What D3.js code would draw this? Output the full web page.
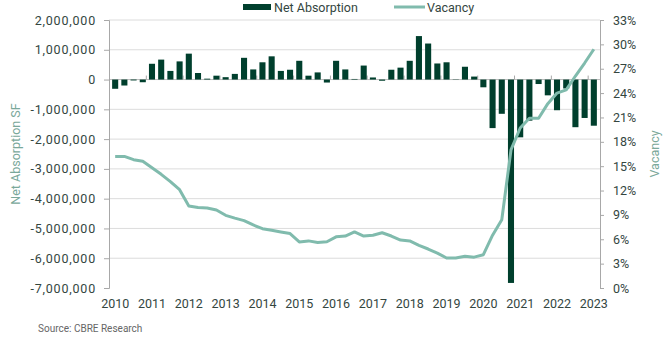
<!DOCTYPE html>
<html>
<head>
<meta charset="utf-8">
<script src="https://cdn.jsdelivr.net/npm/d3@7"></script>
<style>
  html, body { margin: 0; padding: 0; background: #fff; }
  svg text { font-family: Roboto, "Noto Sans", sans-serif; }
</style>
</head>
<body>
<div id="chart"></div>
<script>
// quarters 2010 Q1 .. 2023 Q1
const years = d3.range(2010, 2024);
const quarters = [];
years.forEach((y) => {
  [1, 2, 3, 4].forEach((q) => {
    if (y < 2023 || q === 1) quarters.push(`${y} Q${q}`);
  });
});

// net absorption, SF
const absorption = [
  -310000, -200000, -30000, -90000,
  530000, 670000, 290000, 610000,
  870000, 220000, 30000, 130000,
  80000, 190000, 730000, 340000,
  580000, 780000, 290000, 330000,
  630000, 130000, 240000, -100000,
  630000, 340000, 20000, 470000,
  70000, -40000, 330000, 400000,
  630000, 1460000, 1210000, 540000,
  580000, 10000, 430000, 100000,
  -260000, -1630000, -1150000, -6830000,
  -1940000, -1380000, -150000, -530000,
  -1030000, -300000, -1600000, -1290000,
  -1550000,
];

// vacancy rate, %
const vacancy = [
  16.2, 16.2, 15.8, 15.6,
  14.8, 14.0, 13.1, 12.1,
  10.1, 9.9, 9.85, 9.6,
  8.95, 8.6, 8.3, 7.76,
  7.3, 7.1, 6.9, 6.7,
  5.67, 5.8, 5.6, 5.7,
  6.3, 6.4, 6.9, 6.4,
  6.5, 6.8, 6.4, 5.9,
  5.8, 5.25, 4.8, 4.3,
  3.7, 3.7, 3.9, 3.8,
  4.1, 6.5, 8.4, 17.0,
  19.7, 20.9, 20.9, 22.7,
  24.0, 24.4, 26.1, 27.7,
  29.4,
];

const leftTicks = d3.range(-7000000, 2000001, 1000000);
const rightTicks = d3.range(0, 34, 3);

const width = 665, height = 340;
const margin = { left: 109, right: 65, top: 20, bottom: 52 };
const innerW = width - margin.left - margin.right;
const innerH = height - margin.top - margin.bottom;

const textColor = "#34463f";
const titleColor = "#7aa89a";
const barColor = "#003f2d";
const lineColor = "#80bbad";

const svg = d3.select("#chart").append("svg")
  .attr("width", width)
  .attr("height", height);

const g = svg.append("g")
  .attr("transform", `translate(${margin.left},${margin.top})`);

const x = d3.scaleBand().domain(quarters).range([0, innerW]).padding(0.34);
const yL = d3.scaleLinear().domain([-7000000, 2000000]).range([innerH, 0]);
const yR = d3.scaleLinear().domain([0, 33]).range([innerH, 0]);

const fmt = (d) => (d < 0 ? "-" : "") + d3.format(",")(Math.abs(d));

// gridlines
g.append("g").selectAll("line")
  .data(leftTicks.filter((d) => d !== -7000000))
  .join("line")
  .attr("x1", 0).attr("x2", innerW)
  .attr("y1", (d) => yL(d)).attr("y2", (d) => yL(d))
  .attr("stroke", (d) => (d === 0 ? "#bdbdbd" : "#dcdcdc"))
  .attr("stroke-width", 1);

// left axis
const axL = g.append("g")
  .call(d3.axisLeft(yL).tickValues(leftTicks).tickFormat(fmt).tickSize(5).tickPadding(8));
axL.select(".domain").attr("stroke", "#a8a8a8");
axL.selectAll(".tick line").attr("stroke", "#a8a8a8");
axL.selectAll("text").attr("fill", textColor).attr("font-size", 12.5)
  .attr("letter-spacing", 0.8);

// right axis
const axR = g.append("g")
  .attr("transform", `translate(${innerW},0)`)
  .call(d3.axisRight(yR).tickValues(rightTicks).tickFormat((d) => d + "%").tickSize(4).tickPadding(9));
axR.select(".domain").attr("stroke", "#a8a8a8");
axR.selectAll(".tick line").attr("stroke", "#a8a8a8");
axR.selectAll("text").attr("fill", textColor).attr("font-size", 12.5);

// category ticks on zero line
const step = x.step();
g.append("g").selectAll("line")
  .data(d3.range(0, quarters.length, 4))
  .join("line")
  .attr("x1", (i) => i * step + 0.5).attr("x2", (i) => i * step + 0.5)
  .attr("y1", yL(0) - 4).attr("y2", yL(0))
  .attr("stroke", "#a8a8a8");

// year labels under the chart, centred on Q1
g.append("g").selectAll("text")
  .data(years)
  .join("text")
  .attr("x", (y) => x(`${y} Q1`) + x.bandwidth() / 2)
  .attr("y", innerH + 20)
  .attr("text-anchor", "middle")
  .attr("fill", textColor)
  .attr("font-size", 12.5)
  .text((y) => y);

// bars
g.append("g").selectAll("rect")
  .data(absorption)
  .join("rect")
  .attr("x", (d, i) => x(quarters[i]))
  .attr("y", (d) => yL(Math.max(0, d)))
  .attr("width", x.bandwidth())
  .attr("height", (d) => Math.abs(yL(d) - yL(0)))
  .attr("fill", barColor);

// vacancy line
const line = d3.line()
  .x((d, i) => x(quarters[i]) + x.bandwidth() / 2)
  .y((d) => yR(d));
g.append("path")
  .datum(vacancy)
  .attr("d", line)
  .attr("fill", "none")
  .attr("stroke", lineColor)
  .attr("stroke-width", 3)
  .attr("stroke-linejoin", "round");

// axis titles
svg.append("text")
  .attr("transform", `translate(20,${margin.top + innerH / 2}) rotate(-90)`)
  .attr("text-anchor", "middle")
  .attr("fill", titleColor)
  .attr("font-size", 12.5)
  .text("Net Absorption SF");
svg.append("text")
  .attr("transform", `translate(659,${margin.top + innerH / 2}) rotate(-90)`)
  .attr("text-anchor", "middle")
  .attr("fill", titleColor)
  .attr("font-size", 12.5)
  .text("Vacancy");

// legend
const lg = svg.append("g");
lg.append("rect").attr("x", 243).attr("y", 4).attr("width", 28).attr("height", 6).attr("fill", barColor);
lg.append("text").attr("x", 274).attr("y", 12).attr("fill", textColor).attr("font-size", 12.5).text("Net Absorption");
lg.append("line").attr("x1", 394).attr("x2", 425).attr("y1", 7).attr("y2", 7)
  .attr("stroke", lineColor).attr("stroke-width", 3);
lg.append("text").attr("x", 427).attr("y", 12).attr("fill", textColor).attr("font-size", 12.5).text("Vacancy");

// source
svg.append("text")
  .attr("x", 38).attr("y", 332)
  .attr("fill", "#666")
  .attr("font-size", 10)
  .text("Source: CBRE Research");
</script>
</body>
</html>
